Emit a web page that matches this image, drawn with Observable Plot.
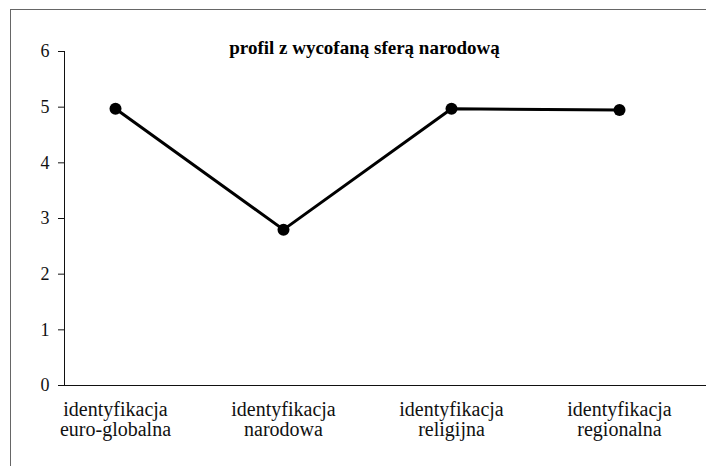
<!DOCTYPE html>
<html>
<head>
<meta charset="utf-8">
<script src="https://cdn.jsdelivr.net/npm/d3@7"></script>
<script src="https://cdn.jsdelivr.net/npm/@observablehq/plot@0.6"></script>
<style>
  html, body { margin: 0; padding: 0; background: #fff; }
  #wrap { position: relative; width: 706px; height: 466px; overflow: hidden; }
  #frame { position: absolute; left: 10px; top: 9px; width: 720px; height: 480px;
           border-left: 1px solid #666; border-top: 1px solid #666; pointer-events: none; }
  #wrap svg, #wrap svg text { font-family: "Liberation Serif", "DejaVu Serif", serif !important; }
</style>
</head>
<body>
<div id="wrap"><div id="frame"></div></div>
<script>
const title = "profil z wycofaną sferą narodową";
const categories = ["euro-globalna", "narodowa", "religijna", "regionalna"];
const categoryLabels = ["identyfikacja\neuro-globalna", "identyfikacja\nnarodowa", "identyfikacja\nreligijna", "identyfikacja\nregionalna"];
const values = [4.97, 2.8, 4.97, 4.95];
const yTicks = [0, 1, 2, 3, 4, 5, 6];

const data = categories.map((c, i) => ({cat: c, value: values[i]}));
const labelOf = new Map(categories.map((c, i) => [c, categoryLabels[i]]));
const serif = "Liberation Serif";

const chart = Plot.plot({
  width: 706,
  height: 466,
  marginLeft: 64,
  marginRight: 0,
  marginTop: 51,
  marginBottom: 81,
  style: {fontFamily: serif, color: "#111", background: "transparent"},
  x: {type: "point", domain: categories, range: [114, 620], padding: 0},
  y: {domain: [0, 6]},
  marks: [
    Plot.frame({anchor: "left", stroke: "#111", strokeWidth: 1}),
    Plot.ruleY([0], {stroke: "#111", strokeWidth: 1}),
    Plot.axisY({ticks: yTicks, tickFormat: d3.format("d"), tickSize: 6, tickPadding: 9,
                fontSize: 18, fontFamily: serif, label: null, stroke: "#111"}),
    Plot.axisX({tickSize: 0, tickPadding: 16, fontSize: 20, fontFamily: serif, lineHeight: 1.0, label: null,
                tickFormat: d => labelOf.get(d), textAnchor: "middle"}),
    Plot.line(data, {x: "cat", y: "value", stroke: "#000", strokeWidth: 3}),
    Plot.dot(data, {x: "cat", y: "value", r: 6, fill: "#000", stroke: "none"}),
    Plot.text([title], {frameAnchor: "top", lineAnchor: "bottom", dx: -21, dy: 2,
                        fontSize: 19, fontWeight: "bold", fontFamily: serif, fill: "#000"})
  ]
});
document.getElementById("wrap").prepend(chart);
</script>
</body>
</html>
